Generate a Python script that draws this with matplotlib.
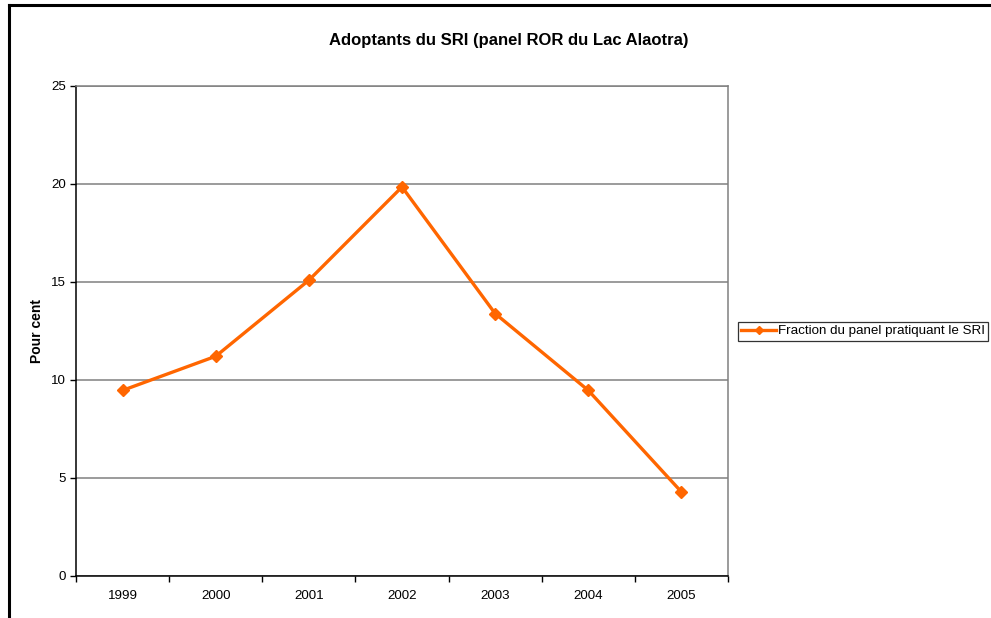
from matplotlib import pyplot as plt
from matplotlib.lines import Line2D
import numpy as np

annees = ["1999", "2000", "2001", "2002", "2003", "2004", "2005"]
fraction_sri = [9.47, 11.21, 15.09, 19.85, 13.39, 9.47, 4.29]

plt.rcParams["font.family"] = ["Liberation Sans", "DejaVu Sans"]

W, H = 991, 618
fig = plt.figure(figsize=(W / 100, H / 100), dpi=100)

# zone de tracé (coordonnées en pixels de l'image)
x0, x1, y0, y1 = 76, 728, 86, 576
ax = fig.add_axes([x0 / W, 1 - y1 / H, (x1 - x0) / W, (y1 - y0) / H])

x = np.arange(len(annees))
ax.plot(x, fraction_sri, color="#FF6600", linewidth=2.4, marker="D", markersize=6.5,
        label="Fraction du panel pratiquant le SRI")

ax.set_xlim(-0.5, len(annees) - 0.5)
ax.set_ylim(0, 25)
ax.set_yticks(np.arange(0, 26, 5))
ax.yaxis.grid(True, color="#808080", linewidth=1.1)
ax.set_axisbelow(True)

ax.set_xticks(x)
ax.set_xticklabels(annees)
ax.set_xticks(np.arange(-0.5, len(annees)), minor=True)
ax.tick_params(axis="x", which="major", length=0, pad=10, labelsize=9.6)
ax.tick_params(axis="x", which="minor", length=4, width=1, direction="out")
ax.tick_params(axis="y", length=4, width=1, direction="out", labelsize=9.6, pad=3)

for s in ["top", "right"]:
    ax.spines[s].set_color("#808080")
    ax.spines[s].set_linewidth(1.1)
for s in ["left", "bottom"]:
    ax.spines[s].set_color("black")
    ax.spines[s].set_linewidth(1.1)

ax.set_ylabel("Pour cent", fontsize=10, fontweight="bold")
ax.yaxis.set_label_coords(-(x0 - 44) / (x1 - x0), 0.5)
fig.text(0.513, 1 - 40 / H, "Adoptants du SRI (panel ROR du Lac Alaotra)",
         ha="center", va="center", fontsize=12, fontweight="bold")

leg = ax.legend(loc="center left", bbox_to_anchor=(738 / W, 1 - 331 / H),
                bbox_transform=fig.transFigure, fontsize=9.6, frameon=True,
                fancybox=False, borderpad=0.25, handlelength=2.6, handletextpad=0.15,
                borderaxespad=0, markerscale=0.6)
leg.get_frame().set_edgecolor("black")
leg.get_frame().set_linewidth(0.9)

# cadre du graphique (bords haut et gauche visibles)
fig.add_artist(Line2D([9 / W, 1.0], [1 - 5 / H, 1 - 5 / H], color="black", linewidth=2.2,
                      transform=fig.transFigure))
fig.add_artist(Line2D([9 / W, 9 / W], [1 - 5 / H, 0.0], color="black", linewidth=2.2,
                      transform=fig.transFigure))

plt.savefig("out.png", dpi=100)
